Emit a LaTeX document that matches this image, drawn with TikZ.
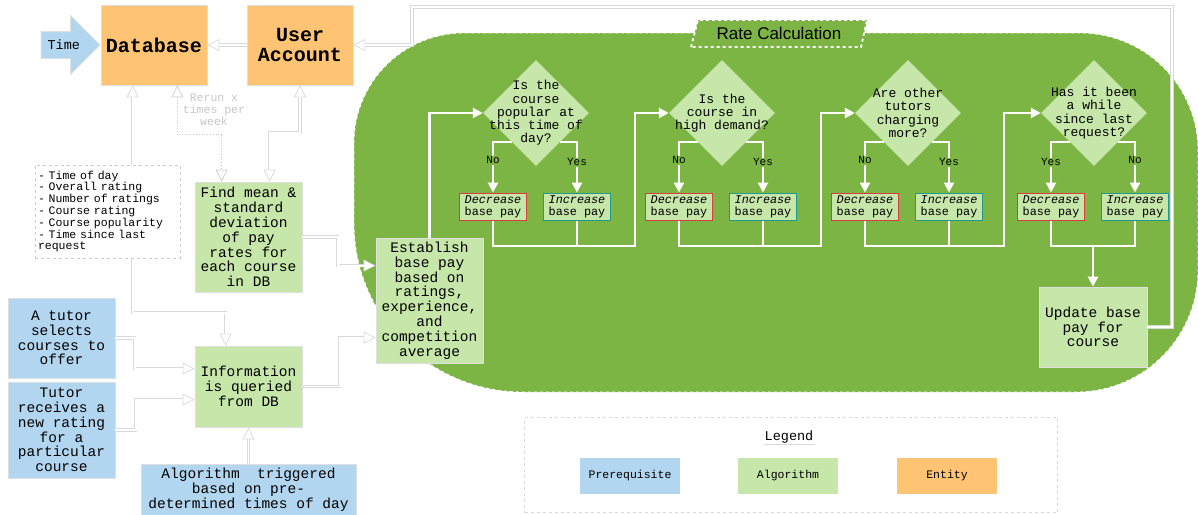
\documentclass[tikz,border=0pt]{standalone}
\usepackage{fontspec}
\setmainfont{Liberation Sans}
\setmonofont{Liberation Mono}
\usetikzlibrary{shapes.geometric,shapes.arrows,arrows.meta,calc,positioning}

\definecolor{entity}{HTML}{FFC374}
\definecolor{prereq}{HTML}{B3D6F0}
\definecolor{algo}{HTML}{C6E6AA}
\definecolor{blob}{HTML}{7CB544}
\definecolor{decred}{HTML}{DC3B42}
\definecolor{incteal}{HTML}{1F9B8E}

\tikzset{
  htip/.tip={Triangle[open, fill=white, length=12pt, width=12pt, line width=0.7pt]},
  ftip/.tip={Triangle[length=10pt, width=10pt]},
  box/.style={draw=gray!25, line width=0.8pt, align=center, inner sep=0pt,
    font=\ttfamily\fontsize{14.5}{14.8}\selectfont},
  entbox/.style={box, fill=entity, minimum width=106, minimum height=80,
    font=\ttfamily\bfseries\fontsize{20}{20}\selectfont},
  prebox/.style={box, fill=prereq},
  algbox/.style={box, fill=algo},
  dec/.style={draw=decred, line width=1pt, fill=algo, minimum width=67, minimum height=27,
    inner sep=0pt, align=center, font=\ttfamily\fontsize{11.8}{12}\selectfont},
  inc/.style={dec, draw=incteal},
  dia/.style={diamond, fill=algo, minimum width=106, minimum height=106, inner sep=0pt},
  qtext/.style={align=center, inner sep=0pt, font=\ttfamily\fontsize{13}{13.3}\selectfont},
  yn/.style={fill=blob, inner sep=1pt, font=\ttfamily\fontsize{11}{11}\selectfont},
  hollow/.style={draw=gray!30, line width=3.2pt, -htip,
    postaction={draw=white, line width=1.8pt, -, shorten >=12pt}},
  hollowboth/.style={draw=gray!30, line width=3.2pt, htip-htip,
    postaction={draw=white, line width=1.8pt, -, shorten >=12pt, shorten <=12pt}},
  dotline/.style={draw=gray!40, line width=0.8pt, dotted, htip-htip},
  flow/.style={draw=white, line width=2.5pt, -ftip},
  flowline/.style={draw=white, line width=2.5pt},
  legbox/.style={minimum width=100, minimum height=36, inner sep=0pt,
    font=\ttfamily\fontsize{11.5}{12}\selectfont}
}

\begin{document}
\begin{tikzpicture}[x=1pt, y=-1pt]
\useasboundingbox (0,0) rectangle (1198,514);
%----------------------------------------------------------
	% Rate calculation area
	%------------------------------------------------------
	\filldraw[fill=blob, draw=white, dashed, line width=0.8pt] (354,143) arc[start angle=180, end angle=270, radius=110] -- (1080,33)
		arc[start angle=270, end angle=360, radius=118] -- (1198,270)
		arc[start angle=0, end angle=90, radius=122] -- (523,392)
		arc[start angle=90, end angle=180, radius=169] -- cycle;
	\draw[white, dashed, line width=1.8pt, fill=blob] (691,47) -- (698,20) -- (867,20) -- (861,47) -- cycle;
	\node[font=\fontsize{17}{17}\selectfont] (RateCalc) at (779,33) {Rate Calculation};

	%Entities
	%------------------------------------------------------
	\node[entbox] (DB) at (154,45) {Database};
	\node[entbox, align=center] (UA) at (300,45) {User\\Account};
	\node[single arrow, fill=prereq, draw=gray!25, line width=0.8pt, minimum height=59,
		single arrow head extend=16pt, text height=8pt, text depth=0pt, inner ysep=9pt,
		inner xsep=3pt, anchor=tip, font=\ttfamily\fontsize{13.5}{13.5}\selectfont] (Time) at (DB.west) {Time};

	%Prerequisites and algorithm
	%------------------------------------------------------
	\node[algbox, minimum width=107, minimum height=110] (FindMean) at (248.5,237)
		{Find mean \&\\standard\\deviation\\of pay\\rates for\\each course\\in DB};
	\node[algbox, minimum width=107, minimum height=81] (Info) at (248.5,386.5)
		{Information\\is queried\\from DB};
	\node[algbox, minimum width=107, minimum height=125] (Establish) at (429.5,300.5)
		{Establish\\base pay\\based on\\ratings,\\experience,\\and\\competition\\average};
	\node[prebox, minimum width=107, minimum height=80] (TutSel) at (61.5,338)
		{A tutor\\selects\\courses to\\offer};
	\node[prebox, minimum width=107, minimum height=96] (TutRate) at (61.5,430)
		{Tutor\\receives a\\new rating\\for a\\particular\\course};
	\node[prebox, minimum width=215, minimum height=52] (Trigger) at (248.5,490)
		{Algorithm~~triggered\\based on pre-\\determined times of day};
	\node[algbox, minimum width=108, minimum height=80] (Update) at (1093,327)
		{Update base\\pay for\\course};

	%Questions
	%------------------------------------------------------
	\node[dia] (QA) at (536,113) {};
	\node[qtext] at (QA) {Is the\\course\\popular at\\this time of\\day?};
	\node[dia] (QB) at (722,113) {};
	\node[qtext] at (QB) {Is the\\course in\\high demand?};
	\node[dia] (QC) at (908,113) {};
	\node[qtext] at (QC) {Are other\\tutors\\charging\\more?};
	\node[dia] (QD) at (1094,113) {};
	\node[qtext] at (QD) {Has it been\\a while\\since last\\request?};

	\node[dec] (DecA) at (493,206.5) {\itshape Decrease\\base pay};
	\node[inc] (IncA) at (577,206.5) {\itshape Increase\\base pay};
	\node[dec] (DecB) at (679,206.5) {\itshape Decrease\\base pay};
	\node[inc] (IncB) at (763,206.5) {\itshape Increase\\base pay};
	\node[dec] (DecC) at (865,206.5) {\itshape Decrease\\base pay};
	\node[inc] (IncC) at (949,206.5) {\itshape Increase\\base pay};
	\node[dec] (DecD) at (1051,206.5) {\itshape Decrease\\base pay};
	\node[inc] (IncD) at (1135,206.5) {\itshape Increase\\base pay};

	\coordinate (JoinA) at (635,246);
	\coordinate (JoinB) at (821,246);
	\coordinate (JoinC) at (1004,246);
	\coordinate (JoinD) at (1093,246);

	%Lines in the rate calculation
	%------------------------------------------------------
	\draw[flow] (Establish.north) |- (QA.west);
	\draw[flow] ($(QA.center)+(-24,29)$) -| node[yn, pos=0.68] {No} (DecA.north);
	\draw[flow] ($(QA.center)+(24,29)$) -| node[yn, pos=0.7] {Yes} (IncA.north);
	\draw[flow] (DecA.south) |- (JoinA) |- (QB.west);
	\draw[flowline] (IncA.south) -- (IncA.south |- JoinA);

	\draw[flow] ($(QB.center)+(-24,29)$) -| node[yn, pos=0.68] {No} (DecB.north);
	\draw[flow] ($(QB.center)+(24,29)$) -| node[yn, pos=0.7] {Yes} (IncB.north);
	\draw[flow] (DecB.south) |- (JoinB) |- (QC.west);
	\draw[flowline] (IncB.south) -- (IncB.south |- JoinB);

	\draw[flow] ($(QC.center)+(-24,29)$) -| node[yn, pos=0.68] {No} (DecC.north);
	\draw[flow] ($(QC.center)+(24,29)$) -| node[yn, pos=0.7] {Yes} (IncC.north);
	\draw[flow] (DecC.south) |- (JoinC) |- (QD.west);
	\draw[flowline] (IncC.south) -- (IncC.south |- JoinC);

	\draw[flow] ($(QD.center)+(-24,29)$) -| node[yn, pos=0.7] {Yes} (DecD.north);
	\draw[flow] ($(QD.center)+(24,29)$) -| node[yn, pos=0.68] {No} (IncD.north);
	\draw[flowline] (DecD.south) |- (IncD.south |- JoinD) -- (IncD.south);
	\draw[flow] (JoinD) -- (Update.north);

	%Lines outside
	%------------------------------------------------------
	\coordinate (FeedR) at (1172,7);
	\coordinate (FeedL) at (412,7);
	\draw[hollow] (Update.east) -| (FeedR) -- (FeedL) |- (UA.east);
	\draw[hollow] (UA.west) -- (DB.east);
	\draw[hollowboth] ($(DB.south west)+(32,0)$) |- ($(Info.north west)+(31,-33)$) -- ($(Info.north west)+(31,0)$);
	\draw[hollowboth] (UA.south) |- ($(FindMean.north west)+(75,-49)$) -- ($(FindMean.north west)+(75,0)$);
	\draw[dotline] ($(DB.south east)+(-30,0)$) |- ($(FindMean.north west)+(27,-47)$) -- ($(FindMean.north west)+(27,0)$);
	\node[qtext, text=gray!45, font=\ttfamily\fontsize{11.5}{12}\selectfont] (Rerun) at (214,110) {Rerun x\\times per\\week};
	\draw[hollow] (FindMean.east) -| ($(Establish.north west)+(-38,28)$) -- ($(Establish.north west)+(0,28)$);
	\draw[hollow] (Info.east) -| ($(Establish.north west)+(-36,100)$) -- ($(Establish.north west)+(0,100)$);
	\draw[hollow] (TutSel.east) -| ($(Info.north west)+(-60,23)$) -- ($(Info.north west)+(0,23)$);
	\draw[hollow] (TutRate.east) -| ($(Info.north west)+(-59,54)$) -- ($(Info.north west)+(0,54)$);
	\draw[hollow] (Trigger.north) -- (Info.south);

	%Data list
	\node[draw=gray!40, dashed, fill=white, minimum width=145, minimum height=93, text width=139,
		inner xsep=3pt, align=left, font=\ttfamily\fontsize{11.5}{11.8}\selectfont] (DataList) at (107.5,211.5)
		{- Time of day\\- Overall rating\\- Number of ratings\\- Course rating\\- Course popularity\\- Time since last\\request};

	%Legend
	%------------------------------------------------------
	\node[draw=gray!30, dashed, minimum width=533, minimum height=95] (Legend) at (791,465) {};
	\node[font=\ttfamily\fontsize{13.5}{13.5}\selectfont, inner sep=1pt] (LegTitle) at (789,437) {Legend};
	\draw[gray!30, line width=1pt] (LegTitle.south west) -- (LegTitle.south east);
	\node[legbox, fill=prereq] (LegPre) at (630,476) {Prerequisite};
	\node[legbox, fill=algo] (LegAlg) at (788,476) {Algorithm};
	\node[legbox, fill=entity] (LegEnt) at (947,476) {Entity};
\end{tikzpicture}
\end{document}
